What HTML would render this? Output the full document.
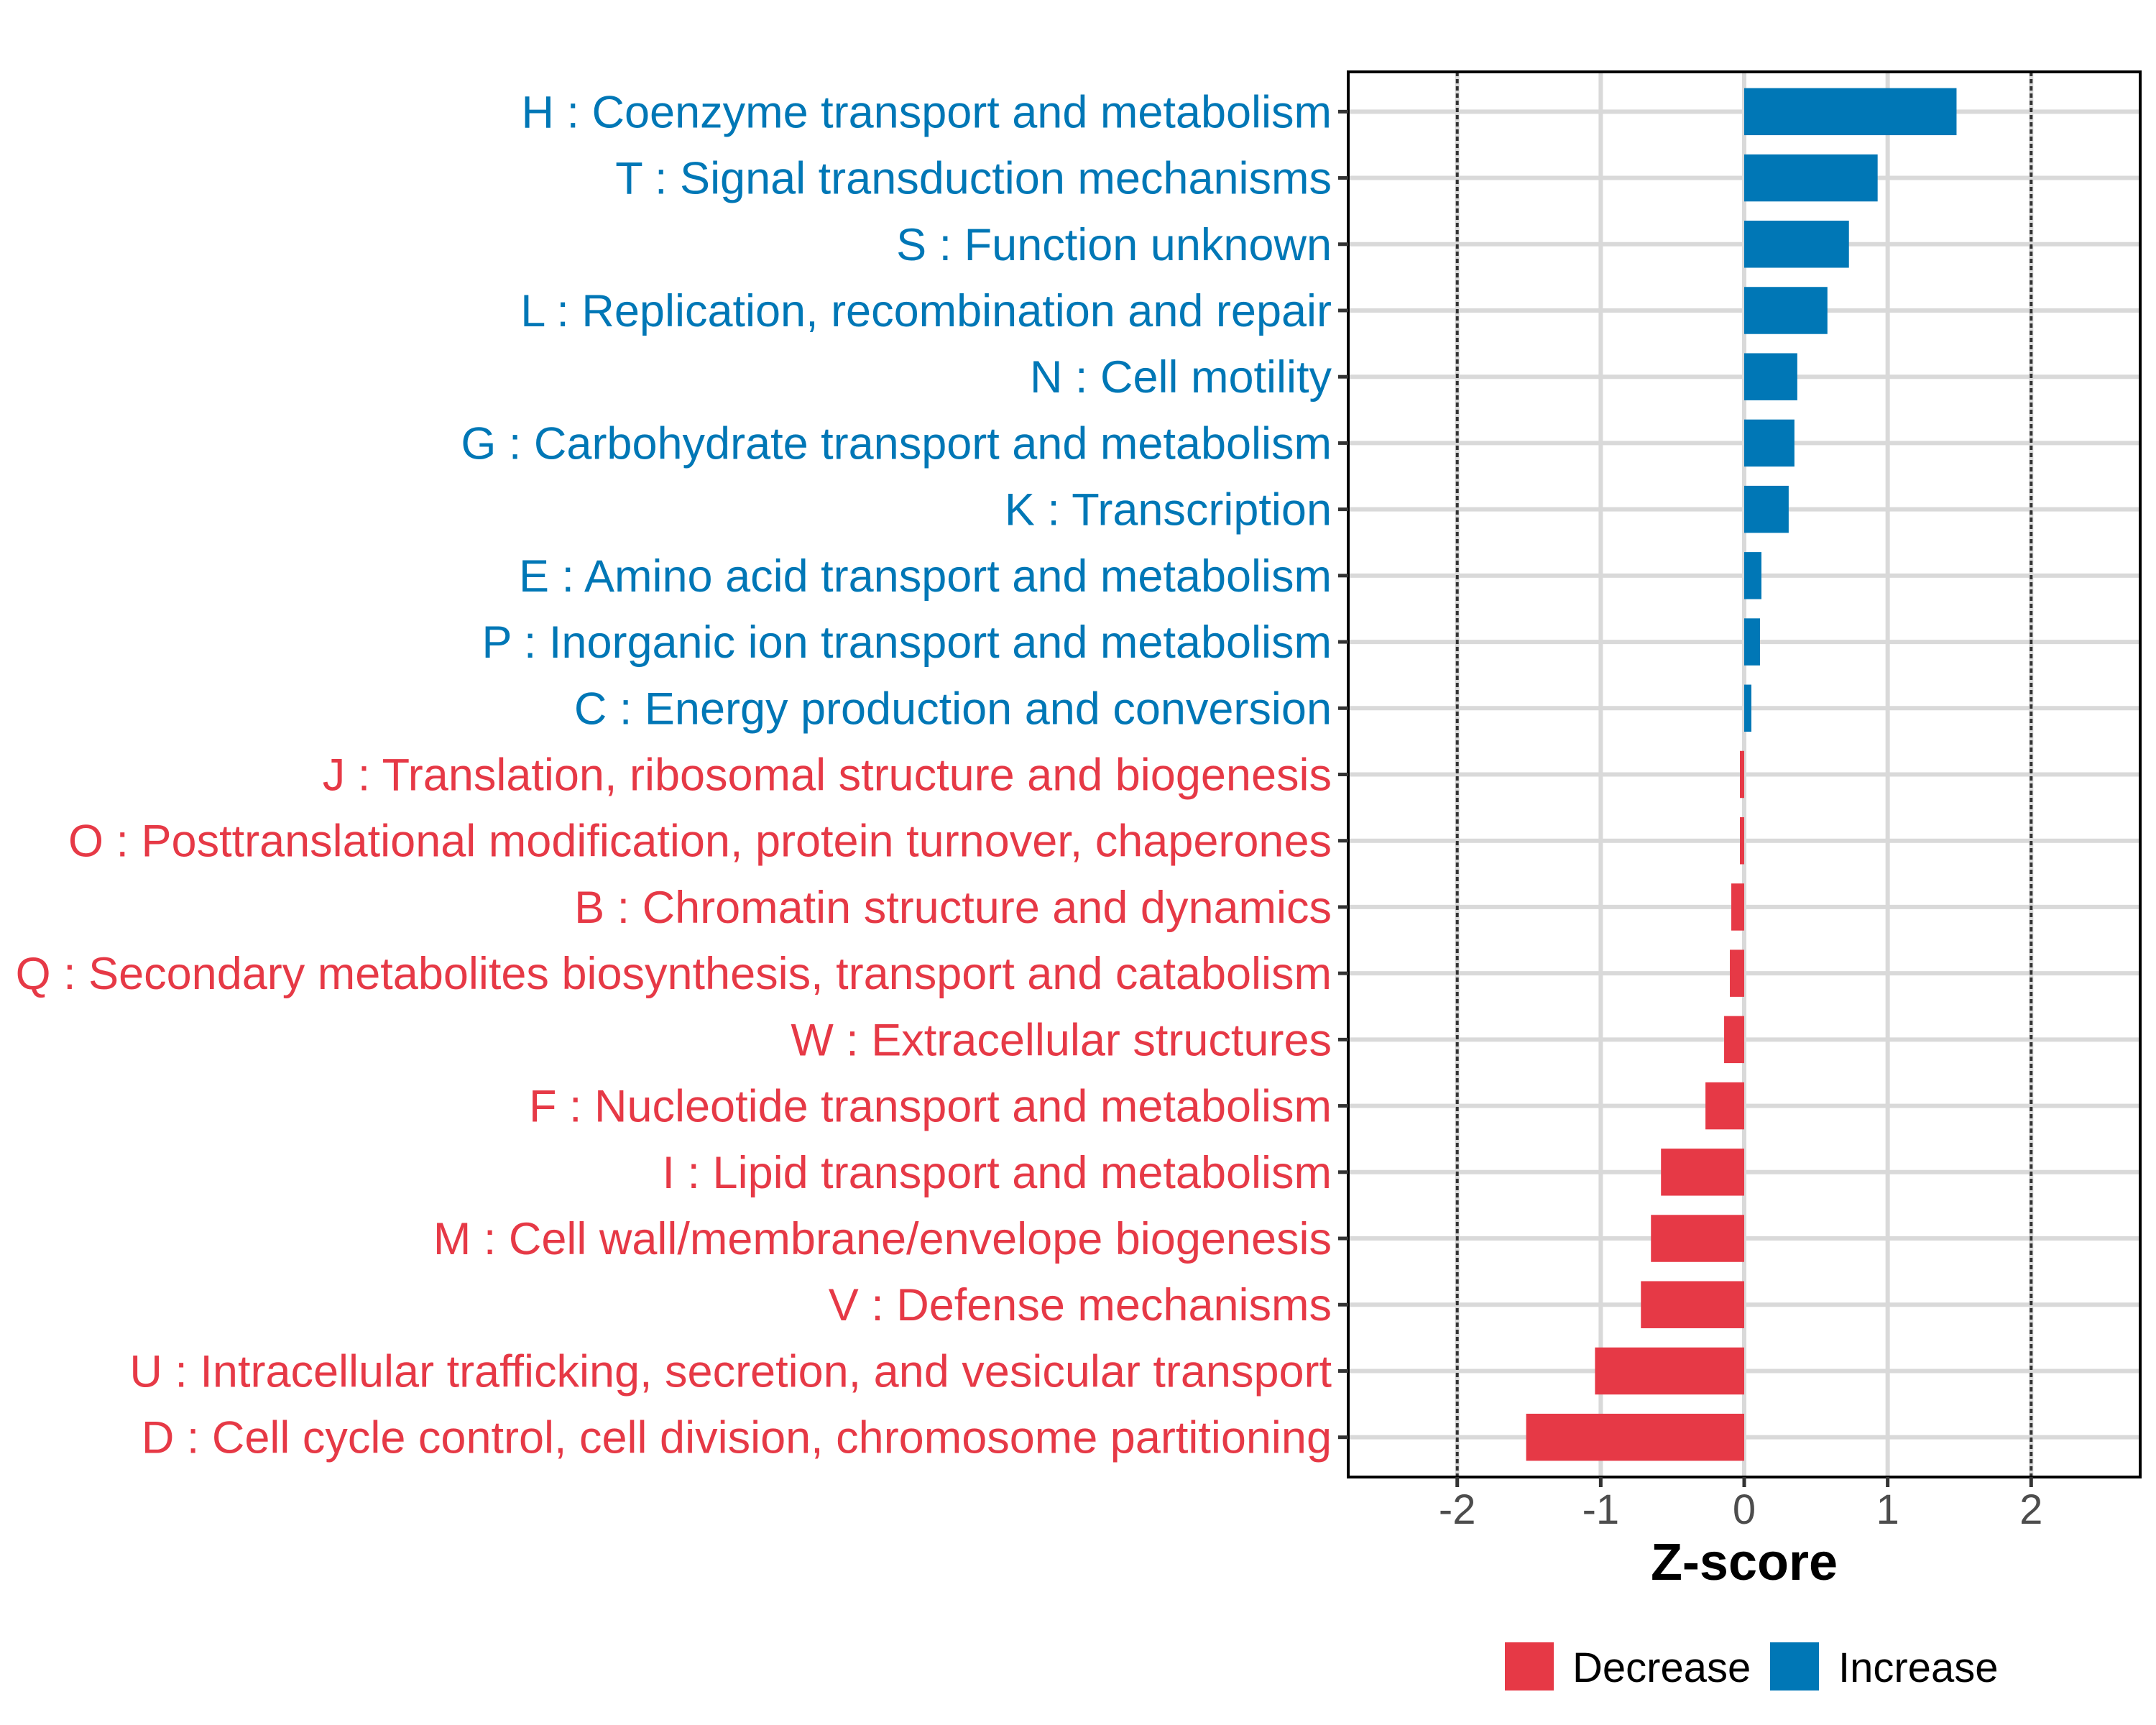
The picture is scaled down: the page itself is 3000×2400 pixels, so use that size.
<!DOCTYPE html>
<html><head><meta charset="utf-8"><style>html,body{margin:0;padding:0;background:#fff}svg{display:block}</style></head>
<body>
<svg id="chart" width="3000" height="2400" viewBox="0 0 3000 2400" xmlns="http://www.w3.org/2000/svg" font-family="Liberation Sans, Arial, sans-serif">
<rect width="3000" height="2400" fill="#fff"/>
<g id="grid"></g>
<g id="bars"></g>
<g id="refs"></g>
<rect x="1876" y="100" width="1102" height="1955" fill="none" stroke="#000" stroke-width="4"/>
<g id="yaxis"></g>
<g id="xaxis"></g>
<text x="2427" y="2198" text-anchor="middle" font-size="72" font-weight="bold" fill="#000">Z-score</text>
<g>
<rect x="2094" y="2285" width="68" height="67" fill="#E63946"/>
<text x="2188" y="2340" font-size="58" fill="#000">Decrease</text>
<rect x="2463" y="2285" width="68" height="67" fill="#0077B6"/>
<text x="2558" y="2340" font-size="58" fill="#000">Increase</text>
</g>
</svg>
<script>
const categories = ["H : Coenzyme transport and metabolism","T : Signal transduction mechanisms","S : Function unknown","L : Replication, recombination and repair","N : Cell motility","G : Carbohydrate transport and metabolism","K : Transcription","E : Amino acid transport and metabolism","P : Inorganic ion transport and metabolism","C : Energy production and conversion","J : Translation, ribosomal structure and biogenesis","O : Posttranslational modification, protein turnover, chaperones","B : Chromatin structure and dynamics","Q : Secondary metabolites biosynthesis, transport and catabolism","W : Extracellular structures","F : Nucleotide transport and metabolism","I : Lipid transport and metabolism","M : Cell wall/membrane/envelope biogenesis","V : Defense mechanisms","U : Intracellular trafficking, secretion, and vesicular transport","D : Cell cycle control, cell division, chromosome partitioning"];
const zscores = [1.48,0.93,0.73,0.58,0.37,0.35,0.31,0.12,0.11,0.05,-0.03,-0.03,-0.09,-0.10,-0.14,-0.27,-0.58,-0.65,-0.72,-1.04,-1.52];
const xTicks = [-2,-1,0,1,2];
const xTickLabels = ["-2","-1","0","1","2"];
const refLines = [-2,2];

const NS="http://www.w3.org/2000/svg";
const L=1876,R=2978,T=100,B=2055;
const xmin=-2.76,xmax=2.76;
function xs(v){return L+(v-xmin)/(xmax-xmin)*(R-L);}
const n=categories.length;
function ys(i){return T+(i+0.6)*(B-T)/(n-1+1.2);}
const step=(B-T)/(n-1+1.2);
function mk(tag,attrs,parent){const e=document.createElementNS(NS,tag);for(const k in attrs)e.setAttribute(k,attrs[k]);parent.appendChild(e);return e;}
const grid=document.getElementById('grid'),bars=document.getElementById('bars'),refs=document.getElementById('refs'),ya=document.getElementById('yaxis'),xa=document.getElementById('xaxis');
for(let i=0;i<n;i++){
  const g=mk('line',{x1:L,x2:R,y1:ys(i),y2:ys(i),stroke:'#D9D9D9','stroke-width':6},grid);
  
  
}
xTicks.forEach(v=>{
  const g=mk('line',{x1:xs(v),x2:xs(v),y1:T,y2:B,stroke:'#D9D9D9','stroke-width':6},grid);
  
  
});
zscores.forEach((v,i)=>{
  const x0=xs(0),x1=xs(v);
  const r=mk('rect',{x:Math.min(x0,x1),y:ys(i)-step*0.355,width:Math.abs(x1-x0),height:step*0.71,fill:v>=0?'#0077B6':'#E63946'},bars);
  
  
  const t=mk('text',{x:1853,y:ys(i)+22,'text-anchor':'end','font-size':63,fill:v>=0?'#0077B6':'#E63946'},ya);
  t.textContent=categories[i];
  
  
  const tk=mk('line',{x1:1862,x2:L,y1:ys(i),y2:ys(i),stroke:'#333','stroke-width':5},ya);
  
  
});
refLines.forEach(v=>{
  const l=mk('line',{x1:xs(v),x2:xs(v),y1:T,y2:B,stroke:'#333','stroke-width':4,'stroke-dasharray':'6 4'},refs);
  
  
});
xTicks.forEach((v,i)=>{
  const tk=mk('line',{x1:xs(v),x2:xs(v),y1:B,y2:B+14,stroke:'#333','stroke-width':5},xa);
  
  
  const t=mk('text',{x:xs(v),y:2120,'text-anchor':'middle','font-size':58,fill:'#4D4D4D'},xa);
  t.textContent=xTickLabels[i];
  
  
});
</script>
</body></html>
